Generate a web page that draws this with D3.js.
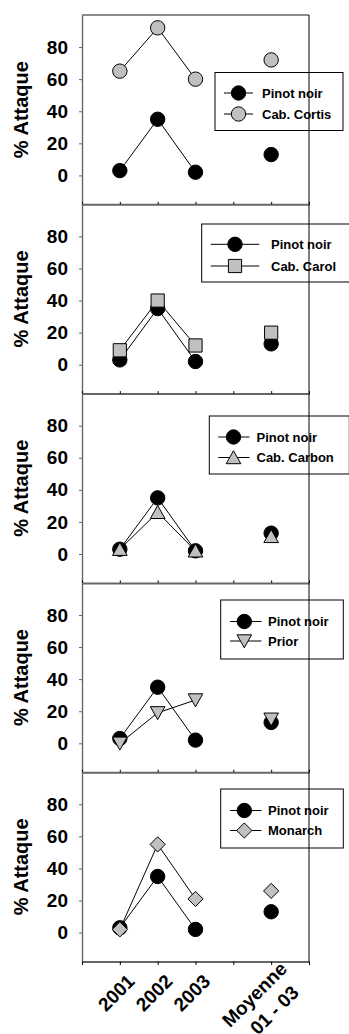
<!DOCTYPE html>
<html>
<head>
<meta charset="utf-8">
<script src="https://cdn.jsdelivr.net/npm/d3@7"></script>
<style>
  html, body { margin: 0; padding: 0; background: #fff; }
  svg { display: block; }
  text { font-family: "Liberation Sans", Arial, sans-serif; font-weight: bold; fill: #000; }
</style>
</head>
<body>
<div id="chart"></div>
<script>
// Category positions on the x axis (slot 4 is left empty before the mean)
const xPositions = [1, 2, 3, 5];
const xLabels = [["2001"], ["2002"], ["2003"], ["Moyenne", "01 - 03"]];
const xTickValues = [0, 1, 2, 3, 4, 5, 6];
const yTicks = [0, 20, 40, 60, 80];

// % attack per year and 2001-03 mean
const pinotNoir = [3, 35, 2, 13];
const cabCortis = [65, 92, 60, 72];
const cabCarol = [9, 40, 12, 20];
const cabCarbon = [3, 26, 2, 11];
const prior = [0, 19, 27, 15];
const monarch = [2, 55, 21, 26];

const seriesNames = ["Cab. Cortis", "Cab. Carol", "Cab. Carbon", "Prior", "Monarch"];
const seriesValues = [cabCortis, cabCarol, cabCarbon, prior, monarch];
const seriesShapes = ["circle", "square", "triangleUp", "triangleDown", "diamond"];

const W = 349, H = 1034;
const left = 82, right = 309, top0 = 15, panelH = 189.3;
const gray = "#c0c0c0", axisGray = "#666";

// legend box placement for each panel
const legendBoxes = [
  { x: 215, y: 72.5, w: 128, h: 58, r1: 93, r2: 114, lx0: 224, lx1: 253, mx: 238.5, tx: 262 },
  { x: 201.7, y: 224, w: 150, h: 58, r1: 244.3, r2: 266, lx0: 210.7, lx1: 259.3, mx: 235, tx: 271 },
  { x: 209.3, y: 416, w: 140, h: 58, r1: 437, r2: 457.5, lx0: 218.3, lx1: 249.5, mx: 233.5, tx: 256.5 },
  { x: 220.7, y: 600, w: 122.6, h: 59, r1: 621.5, r2: 641, lx0: 230, lx1: 261.5, mx: 244.3, tx: 268 },
  { x: 220.7, y: 789, w: 122.6, h: 59, r1: 810.5, r2: 830.5, lx0: 230, lx1: 261.5, mx: 244.3, tx: 268 }
];

const svg = d3.select("#chart").append("svg").attr("width", W).attr("height", H);

const x = d3.scaleLinear().domain([0, 6]).range([left, right]);

function shapePath(shape) {
  switch (shape) {
    case "circle": return d3.symbol().type(d3.symbolCircle).size(Math.PI * 7.2 * 7.2)();
    case "square": return "M-6.6,-6.6H6.6V6.6H-6.6Z";
    case "triangleUp": return "M0,-6.8L7.3,6.2L-7.3,6.2Z";
    case "triangleDown": return "M0,6.8L7.3,-6.2L-7.3,-6.2Z";
    case "diamond": return "M0,-7.6L7.6,0L0,7.6L-7.6,0Z";
  }
}

function drawMarkers(g, y, vals, shape, fill) {
  g.selectAll(null)
    .data(vals)
    .join("path")
    .attr("d", shapePath(shape))
    .attr("transform", (d, i) => `translate(${x(xPositions[i])},${y(d)})`)
    .attr("fill", fill)
    .attr("stroke", "#000")
    .attr("stroke-width", 1);
}

seriesValues.forEach((vals, p) => {
  const top = top0 + p * panelH;
  const bottom = top + panelH;
  const y = d3.scaleLinear().domain([-18, 100]).range([bottom, top]);
  const g = svg.append("g");

  // y axis
  const ya = g.append("g")
    .attr("transform", `translate(${left},0)`)
    .call(d3.axisLeft(y).tickValues(yTicks).tickSize(3).tickSizeOuter(0).tickPadding(11));
  ya.select(".domain").attr("stroke", axisGray).attr("stroke-width", 1.4);
  ya.selectAll(".tick line").attr("stroke", axisGray);
  ya.selectAll(".tick text")
    .style("font-size", "19px")
    .style("font-family", "'Liberation Sans', Arial, sans-serif")
    .style("font-weight", "bold")
    .attr("fill", "#000");

  // x axis at the bottom of the panel
  const last = p === seriesValues.length - 1;
  const xa = g.append("g")
    .attr("transform", `translate(0,${bottom})`)
    .call(d3.axisBottom(x).tickValues(xTickValues).tickFormat("").tickSize(last ? 3.5 : -2.5).tickSizeOuter(0));
  xa.select(".domain").attr("stroke", axisGray).attr("stroke-width", 2);
  xa.selectAll(".tick line").attr("stroke", "#000");

  // y label
  g.append("text")
    .attr("transform", `translate(28,${(top + bottom) / 2}) rotate(-90)`)
    .attr("text-anchor", "middle")
    .style("font-size", "20px")
    .text("% Attaque");

  // connecting lines over the yearly values
  const line = d3.line().x((d, i) => x(xPositions[i])).y(d => y(d));
  [pinotNoir, vals].forEach(s => {
    g.append("path")
      .attr("d", line(s.slice(0, 3)))
      .attr("fill", "none")
      .attr("stroke", "#000")
      .attr("stroke-width", 1);
  });

  drawMarkers(g, y, pinotNoir, "circle", "#000");
  drawMarkers(g, y, vals, seriesShapes[p], gray);

  // legend
  const lb = legendBoxes[p];
  const lg = g.append("g");
  lg.append("rect")
    .attr("x", lb.x).attr("y", lb.y).attr("width", lb.w).attr("height", lb.h)
    .attr("fill", "#fff").attr("stroke", "#000").attr("stroke-width", 1);
  [["Pinot noir", "circle", "#000", lb.r1], [seriesNames[p], seriesShapes[p], gray, lb.r2]].forEach(([name, shape, fill, ry]) => {
    lg.append("line").attr("x1", lb.lx0).attr("x2", lb.lx1).attr("y1", ry).attr("y2", ry)
      .attr("stroke", "#000").attr("stroke-width", 1);
    lg.append("path").attr("d", shapePath(shape))
      .attr("transform", `translate(${lb.mx},${ry})`)
      .attr("fill", fill).attr("stroke", "#000");
    lg.append("text").attr("x", lb.tx).attr("y", ry).attr("dy", "0.36em")
      .style("font-size", "13px").text(name);
  });
});

// top and right frame
svg.append("line").attr("x1", left).attr("x2", right).attr("y1", top0).attr("y2", top0)
  .attr("stroke", axisGray).attr("stroke-width", 1.4);
svg.append("line").attr("x1", right).attr("x2", right).attr("y1", top0).attr("y2", top0 + 5 * panelH)
  .attr("stroke", "#000").attr("stroke-width", 1);

// rotated category labels; the two-line mean label is stacked around the same anchor
const axisY = top0 + 5 * panelH;
const labels = svg.append("g");
const lineOffsets = { 1: [[0, 0]], 2: [[9.5, -8], [1, 17]] };
xLabels.forEach((lines, i) => {
  const t = labels.append("text")
    .attr("transform", `translate(${x(xPositions[i]) + 16},${axisY + 21}) rotate(-45)`)
    .attr("text-anchor", "end")
    .style("font-size", "19px");
  lines.forEach((s, k) => {
    const [ox, oy] = lineOffsets[lines.length][k];
    t.append("tspan").attr("x", ox).attr("y", oy).text(s);
  });
});
</script>
</body>
</html>
